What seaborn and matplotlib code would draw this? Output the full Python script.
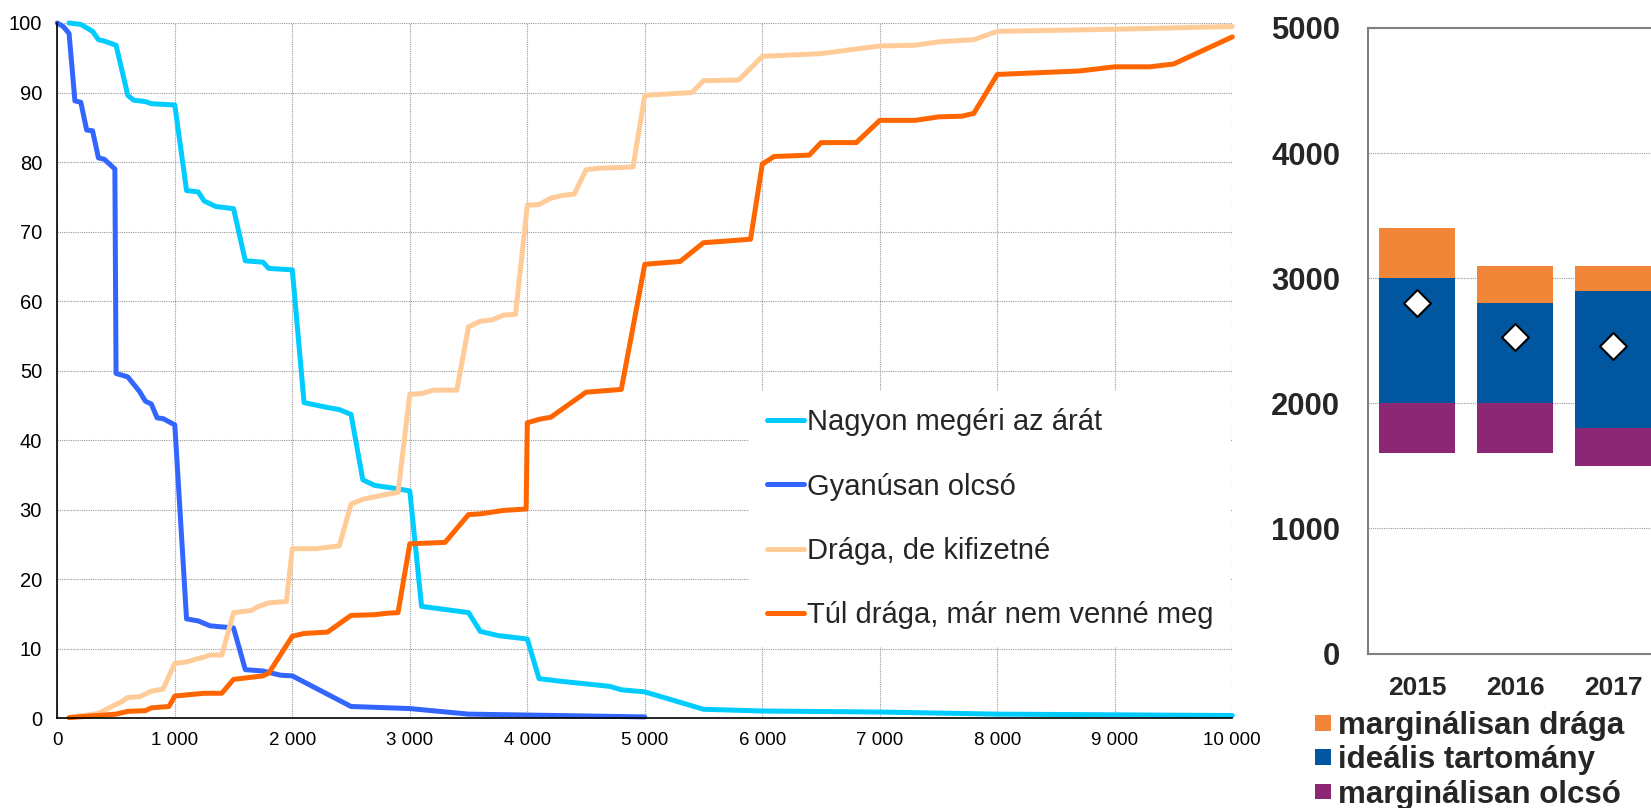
import numpy as np
import pandas as pd
import matplotlib
matplotlib.use("Agg")
import matplotlib.pyplot as plt
import seaborn as sns
from matplotlib.ticker import FuncFormatter, MultipleLocator
from matplotlib.lines import Line2D
from matplotlib.patches import Patch

# ---- price sensitivity curves (price in Ft, share of respondents in %) ----
series_names = [
    "Nagyon megéri az árát",
    "Gyanúsan olcsó",
    "Drága, de kifizetné",
    "Túl drága, már nem venné meg",
]
series_colors = ["#00CCFF", "#3366FF", "#FFCC99", "#FF6600"]

nagyon_x = [100, 200, 300, 350, 400, 500, 600, 650, 750, 800, 1000, 1100, 1200,
            1250, 1350, 1500, 1600, 1750, 1800, 2000, 2100, 2300, 2400, 2500,
            2600, 2700, 2900, 3000, 3100, 3500, 3600, 3750, 4000, 4100, 4300,
            4700, 4800, 5000, 5500, 6000, 7000, 8000, 9000, 10000]
nagyon_y = [100, 99.8, 98.8, 97.6, 97.4, 96.8, 89.6, 88.9, 88.7, 88.4, 88.2, 75.9,
            75.7, 74.4, 73.6, 73.3, 65.8, 65.6, 64.7, 64.5, 45.4, 44.7, 44.4,
            43.7, 34.3, 33.5, 33.0, 32.7, 16.1, 15.2, 12.5, 11.9, 11.4, 5.7, 5.3,
            4.6, 4.1, 3.8, 1.3, 1.05, 0.9, 0.6, 0.5, 0.4]

gyanus_x = [0, 50, 100, 150, 200, 250, 300, 350, 400, 490, 500, 600, 700, 750,
            800, 850, 900, 1000, 1100, 1200, 1300, 1500, 1600, 1750, 1900, 2000,
            2500, 3000, 3500, 5000]
gyanus_y = [100, 99.5, 98.5, 88.8, 88.6, 84.6, 84.5, 80.6, 80.4, 79.0, 49.6, 49.1,
            47.0, 45.6, 45.2, 43.2, 43.1, 42.2, 14.3, 14.0, 13.3, 13.0, 7.0, 6.8,
            6.2, 6.1, 1.7, 1.4, 0.6, 0.2]

draga_x = [100, 350, 500, 550, 600, 700, 800, 900, 1000, 1100, 1200, 1250, 1300,
           1400, 1500, 1650, 1700, 1800, 1950, 2000, 2200, 2400, 2500, 2600, 2800,
           2900, 3000, 3100, 3200, 3400, 3500, 3600, 3700, 3800, 3900, 4000, 4100,
           4200, 4300, 4400, 4500, 4600, 4900, 5000, 5400, 5500, 5800, 6000, 6500,
           7000, 7300, 7500, 7800, 8000, 9000, 10000]
draga_y = [0.1, 0.7, 2.0, 2.4, 3.0, 3.1, 3.9, 4.2, 7.9, 8.1, 8.6, 8.8, 9.1, 9.1,
           15.2, 15.5, 16.0, 16.6, 16.8, 24.4, 24.4, 24.8, 30.8, 31.5, 32.2, 32.5,
           46.6, 46.7, 47.2, 47.2, 56.3, 57.1, 57.3, 58.0, 58.1, 73.8, 73.9, 74.8,
           75.2, 75.4, 78.9, 79.1, 79.3, 89.6, 90.0, 91.7, 91.8, 95.2, 95.6, 96.7,
           96.8, 97.3, 97.6, 98.8, 99.1, 99.5]

tul_x = [100, 500, 600, 750, 800, 950, 1000, 1250, 1400, 1500, 1750, 1800, 2000,
         2100, 2300, 2500, 2700, 2800, 2900, 3000, 3300, 3500, 3600, 3800, 3990,
         4000, 4100, 4200, 4500, 4800, 5000, 5300, 5500, 5900, 6000, 6100, 6400,
         6500, 6800, 7000, 7300, 7500, 7700, 7800, 8000, 8700, 9000, 9300, 9500,
         10000]
tul_y = [0.1, 0.6, 1.0, 1.1, 1.5, 1.7, 3.2, 3.6, 3.6, 5.6, 6.1, 6.5, 11.8, 12.2,
         12.4, 14.8, 14.9, 15.1, 15.2, 25.1, 25.3, 29.3, 29.4, 29.9, 30.1, 42.5,
         43.0, 43.3, 46.9, 47.3, 65.3, 65.7, 68.4, 68.9, 79.7, 80.8, 81.0, 82.8,
         82.8, 86.0, 86.0, 86.5, 86.6, 87.0, 92.6, 93.1, 93.7, 93.7, 94.1, 98.0]

x_ticks_max = 10000

# ---- price ranges by year (Ft) ----
years = ["2015", "2016", "2017"]
olcso_also = [1600, 1600, 1500]      # bottom of "marginálisan olcsó"
idealis_also = [2000, 2000, 1800]    # bottom of "ideális tartomány"
idealis_felso = [3000, 2800, 2900]   # top of "ideális tartomány"
draga_felso = [3400, 3100, 3100]     # top of "marginálisan drága"
optimalis_ar = [2800, 2530, 2460]    # diamond markers
range_names = ["marginálisan drága", "ideális tartomány", "marginálisan olcsó"]
range_colors = ["#F18538", "#00569F", "#8B2775"]

# ---- style ----
sns.set_style("white")
plt.rcParams["font.family"] = ["Liberation Sans", "DejaVu Sans"]

W, H = 1651, 808
fig = plt.figure(figsize=(W / 100, H / 100), dpi=100)


def fx(px):
    return px / W


def fy(py):
    return 1 - py / H


# ================= left: line chart =================
ax = fig.add_axes([fx(57.3), fy(718.3), fx(1232.3) - fx(57.3), fy(23) - fy(718.3)])

frames = []
for name, xs, ys in zip(series_names,
                        [nagyon_x, gyanus_x, draga_x, tul_x],
                        [nagyon_y, gyanus_y, draga_y, tul_y]):
    frames.append(pd.DataFrame({"ar": xs, "arany": ys, "valasz": name}))
df = pd.concat(frames, ignore_index=True)

palette = dict(zip(series_names, series_colors))
sns.lineplot(data=df, x="ar", y="arany", hue="valasz", hue_order=series_names,
             palette=palette, estimator=None, sort=False, linewidth=3.6,
             solid_joinstyle="round", solid_capstyle="round", clip_on=False,
             ax=ax, legend=False)

ax.set_xlim(0, x_ticks_max)
ax.set_ylim(0, 100)
ax.xaxis.set_major_locator(MultipleLocator(1000))
ax.yaxis.set_major_locator(MultipleLocator(10))
ax.xaxis.set_major_formatter(FuncFormatter(lambda v, p: f"{int(v):,}".replace(",", " ")))
ax.set_xlabel("")
ax.set_ylabel("")
ax.grid(True, color="#9a9a9a", linestyle=(0, (1, 1)), linewidth=0.8)
ax.set_axisbelow(True)
for s in ["top", "right"]:
    ax.spines[s].set_visible(False)
for s in ["left", "bottom"]:
    ax.spines[s].set_color("black")
    ax.spines[s].set_linewidth(1.2)
ax.tick_params(axis="both", direction="out", length=4, width=1, color="black",
               labelcolor="black")
ax.tick_params(axis="y", pad=7, labelsize=14.5)
ax.tick_params(axis="x", pad=6, labelsize=13.5)

handles = [Line2D([0], [0], color=c, lw=3.6, solid_capstyle="round") for c in series_colors]
leg = ax.legend(handles, series_names, loc="upper left",
                bbox_to_anchor=(fx(749), fy(391)), bbox_transform=fig.transFigure,
                fontsize=21, frameon=True, facecolor="white", edgecolor="none",
                framealpha=1, fancybox=False, handlelength=1.3, handletextpad=0.1,
                labelspacing=1.24, borderpad=0.6, borderaxespad=0)

# ================= right: price ranges =================
ax2 = fig.add_axes([fx(1368), fy(653.5), 392 / W, fy(28) - fy(653.5)])
pos = np.arange(len(years))
bw = 0.776
lows = [olcso_also, idealis_also, idealis_felso]
highs = [idealis_also, idealis_felso, draga_felso]
for lo, hi, col in zip(lows, highs, range_colors[::-1]):
    ax2.bar(pos, np.array(hi) - np.array(lo), bottom=lo, width=bw, color=col,
            edgecolor="none", zorder=2)
sns.scatterplot(x=pos, y=optimalis_ar, marker="D", s=188, color="white",
                edgecolor="black", linewidth=1.5, zorder=4, ax=ax2, legend=False)

ax2.set_xlim(-0.5, 3.5)
ax2.set_ylim(0, 5000)
ax2.yaxis.set_major_locator(MultipleLocator(1000))
ax2.set_xticks(np.arange(-0.5, 4.0, 1.0))
ax2.set_xticklabels([])
ax2.set_xticks(pos, minor=True)
ax2.set_xticklabels(years, minor=True)
ax2.tick_params(axis="x", which="major", direction="out", length=5.5, width=1.5,
                color="#7f7f7f")
ax2.tick_params(axis="x", which="minor", length=0, pad=16, labelsize=19)
ax2.tick_params(axis="y", direction="out", length=6.5, width=1.5, color="#7f7f7f",
                labelsize=22.3, pad=13.5)
for lab in ax2.get_xticklabels(minor=True) + ax2.get_yticklabels():
    lab.set_fontweight("bold")
ax2.yaxis.grid(True, color="#9a9a9a", linestyle=(0, (1, 1)), linewidth=0.8)
ax2.xaxis.grid(False)
ax2.set_axisbelow(True)
for s in ["left", "bottom", "top", "right"]:
    ax2.spines[s].set_color("#7f7f7f")
    ax2.spines[s].set_linewidth(1.5)
ax2.set_xlabel("")
ax2.set_ylabel("")

range_handles = [Patch(facecolor=c, edgecolor="none") for c in range_colors]
fig.legend(range_handles, range_names, loc="upper left",
           bbox_to_anchor=(fx(1315), fy(711)), frameon=False,
           prop={"weight": "bold", "size": 22.5}, handlelength=0.5,
           handleheight=0.39, handletextpad=0.25, labelspacing=0.14,
           borderpad=0, borderaxespad=0)

fig.savefig("out.png", dpi=100)
